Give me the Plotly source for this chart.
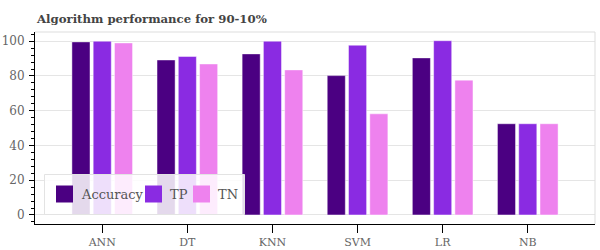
import plotly.graph_objects as go

categories = ["ANN", "DT", "KNN", "SVM", "LR", "NB"]
accuracy = [99.6, 89.2, 92.7, 80.2, 90.4, 52.5]
tp = [100.0, 91.2, 100.0, 97.7, 100.3, 52.5]
tn = [99.0, 86.9, 83.5, 58.2, 77.6, 52.5]
series_names = ["Accuracy", "TP", "TN"]
colors = ["#4B0082", "#8A2BE2", "#EE82EE"]

font = "'DejaVu Serif', 'Liberation Serif', serif"
W, H = 600, 250
L, R, T, B = 35, 5, 32, 26
PW, PH = W - L - R, H - T - B


def px_x(x):
    return (x - L) / PW


def px_y(y):
    return (H - B - y) / PH


fig = go.Figure()
for name, vals, c in zip(series_names, [accuracy, tp, tn], colors):
    fig.add_trace(go.Bar(
        x=categories, y=vals, name=name, showlegend=False,
        marker=dict(color=c, line=dict(color="rgba(255,255,255,0.45)", width=1)),
        hoverinfo="skip",
    ))

# manual legend (box, swatches, labels)
shapes = [
    dict(type="line", xref="paper", yref="paper", x0=0, x1=1, y0=1, y1=1,
         line=dict(color="#dddddd", width=1)),
    dict(type="line", xref="paper", yref="paper", x0=1, x1=1, y0=0, y1=1,
         line=dict(color="#dddddd", width=1)),
    dict(type="rect", xref="paper", yref="paper", layer="above",
         x0=px_x(44.5), x1=px_x(244.5), y0=px_y(214.5), y1=px_y(174.5),
         fillcolor="rgba(255,255,255,0.85)", line=dict(color="#e3e3e3", width=1)),
]
annotations = []
swatch_x = [56, 145, 193]
text_x = [79, 168, 216]
for name, c, sx, tx in zip(series_names, colors, swatch_x, text_x):
    shapes.append(dict(type="rect", xref="paper", yref="paper", layer="above",
                       x0=px_x(sx), x1=px_x(sx + 17), y0=px_y(202.5), y1=px_y(185.5),
                       fillcolor=c, line=dict(width=0)))
    annotations.append(dict(text=name, xref="paper", yref="paper", x=px_x(tx), y=px_y(194),
                            xanchor="left", yanchor="middle", showarrow=False,
                            font=dict(family=font, size=13, color="#555")))

annotations.append(dict(text="<b>Algorithm performance for 90-10%</b>", xref="paper", yref="paper",
                        x=px_x(34), y=px_y(18.5), xanchor="left", yanchor="middle", showarrow=False,
                        font=dict(family=font, size=11.7, color="#444")))

fig.update_layout(
    width=W, height=H,
    margin=dict(l=L, r=R, t=T, b=B, autoexpand=False),
    paper_bgcolor="white", plot_bgcolor="white",
    barmode="group", bargap=0.25, bargroupgap=0.15,
    showlegend=False,
    font=dict(family=font, size=12, color="#666"),
    xaxis=dict(range=[-0.79, 5.79], showline=True, linecolor="black", linewidth=1,
               ticks="outside", ticklen=8, tickcolor="black", showgrid=False, automargin=False,
               tickfont=dict(family=font, size=11, color="#666")),
    yaxis=dict(range=[-5.2, 105.3], dtick=20, showline=True, linecolor="black", linewidth=1,
               ticks="outside", ticklen=5, tickcolor="black", showgrid=True, automargin=False,
               gridcolor="#e5e5e5", zeroline=False, ticklabelstandoff=2,
               minor=dict(dtick=4, ticks="outside", ticklen=3, tickcolor="black", showgrid=False),
               tickfont=dict(family=font, size=12, color="#666")),
    shapes=shapes,
    annotations=annotations,
)
fig.write_html("out.html", config={"displayModeBar": False},
               post_script="document.body.style.margin='0';")
